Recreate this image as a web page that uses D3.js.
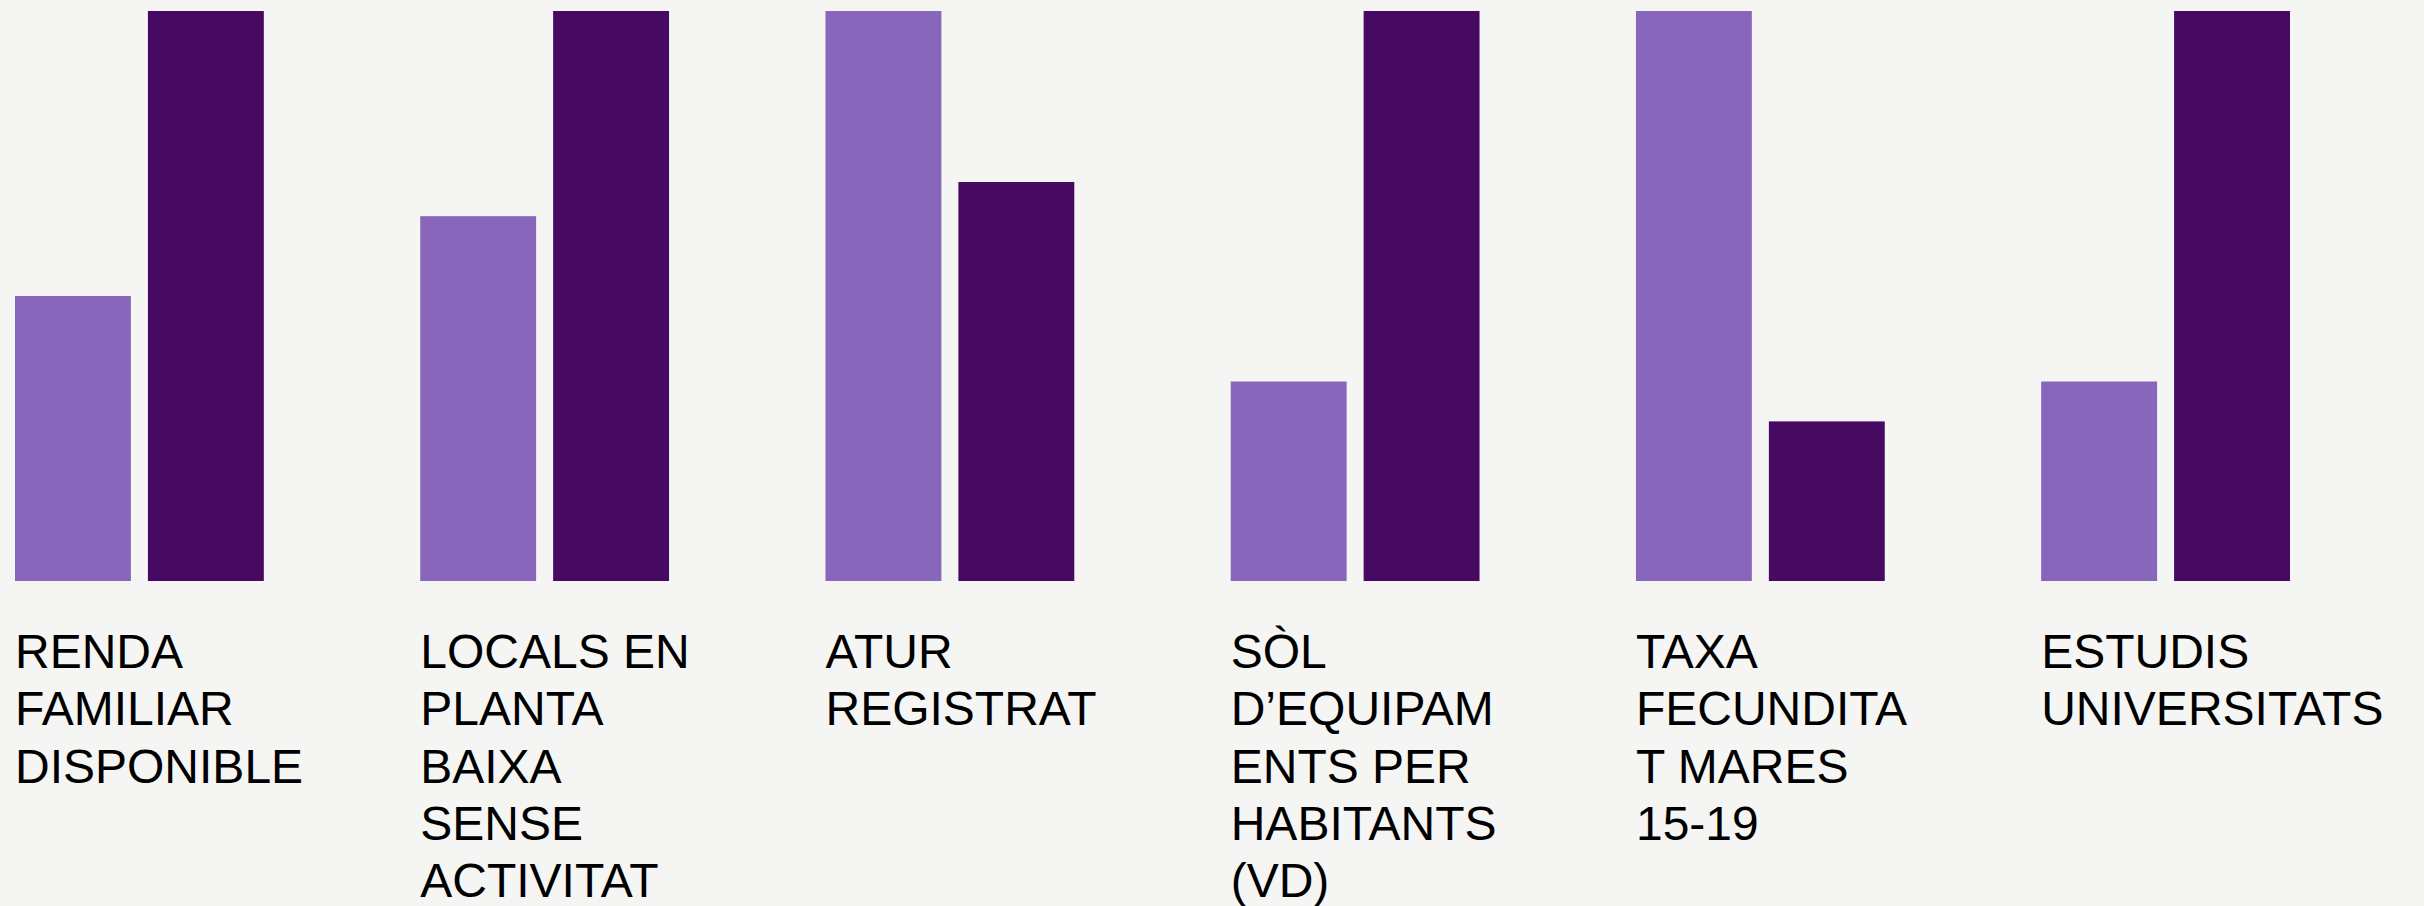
<!DOCTYPE html>
<html>
<head>
<meta charset="utf-8">
<script src="https://cdn.jsdelivr.net/npm/d3@7"></script>
<style>
  html, body { margin: 0; padding: 0; background: #f5f5f3; }
  svg { display: block; }
</style>
</head>
<body>
<svg id="chart"></svg>
<script>
// Width and height for whole
var w = 2424;
var h = 906;

// categories, label lines as they wrap in the picture
var categories = ["renda", "locals", "atur", "sol", "taxa", "estudis"];
var labelLines = [
    ["RENDA", "FAMILIAR", "DISPONIBLE"],
    ["LOCALS EN", "PLANTA", "BAIXA", "SENSE", "ACTIVITAT"],
    ["ATUR", "REGISTRAT"],
    ["SÒL", "D\u2019EQUIPAM", "ENTS PER", "HABITANTS", "(VD)"],
    ["TAXA", "FECUNDITA", "T MARES", "15-19"],
    ["ESTUDIS", "UNIVERSITATS"]
];

// two series, relative index (max of each pair = 100)
var series = ["serie1", "serie2"];
var serie1 = [50, 64, 100, 35, 100, 35];
var serie2 = [100, 100, 70, 100, 28, 100];

var colorSet = {"serie1": "#8866bb", "serie2": "#470a63"};

var svg = d3.select("#chart").attr("width", w).attr("height", h);

// bars area
var barTop = 11, barBase = 581;

var x0 = d3.scaleBand()
    .domain(categories)
    .range([15, 2290])
    .paddingInner(0.386)
    .paddingOuter(0);

var x1 = d3.scaleBand()
    .domain(series)
    .range([0, x0.bandwidth()])
    .paddingInner(0.128)
    .paddingOuter(0);

var y = d3.scaleLinear().domain([0, 100]).range([barBase, barTop]);

var data = categories.map(function(c, i) {
    return {key: c, values: [
        {s: "serie1", v: serie1[i]},
        {s: "serie2", v: serie2[i]}
    ]};
});

var groups = svg.selectAll(".grp")
    .data(data)
    .enter().append("g")
    .attr("class", "grp")
    .attr("transform", function(d) { return "translate(" + x0(d.key) + ",0)"; });

groups.selectAll("rect")
    .data(function(d) { return d.values; })
    .enter().append("rect")
    .attr("x", function(d) { return x1(d.s); })
    .attr("y", function(d) { return y(d.v); })
    .attr("width", x1.bandwidth())
    .attr("height", function(d) { return barBase - y(d.v); })
    .attr("fill", function(d) { return colorSet[d.s]; });

// category labels under bars
var lineH = 57.3;
var firstLine = 668;
groups.append("text")
    .attr("font-family", "Liberation Sans, Arial, sans-serif")
    .attr("font-size", 48)
    .attr("fill", "#000000")
    .selectAll("tspan")
    .data(function(d, i) { return labelLines[i]; })
    .enter().append("tspan")
    .attr("x", 0)
    .attr("y", function(d, i) { return firstLine + i * lineH; })
    .text(function(d) { return d; });
</script>
</body>
</html>
